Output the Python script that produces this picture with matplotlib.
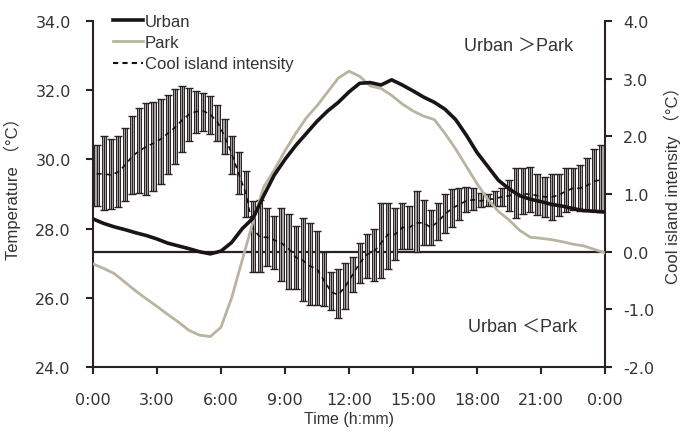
import matplotlib
matplotlib.use("Agg")
import matplotlib.pyplot as plt
import numpy as np

# ---- data ----
hours = [0, 0.5, 1, 1.5, 2, 2.5, 3, 3.5, 4, 4.5, 5, 5.5, 6, 6.5, 7, 7.5, 8, 8.5, 9, 9.5,
         10, 10.5, 11, 11.5, 12, 12.5, 13, 13.5, 14, 14.5, 15, 15.5, 16, 16.5, 17, 17.5,
         18, 18.5, 19, 19.5, 20, 20.5, 21, 21.5, 22, 22.5, 23, 23.5, 24]
urban = [28.28, 28.15, 28.05, 27.97, 27.88, 27.80, 27.70, 27.58, 27.50, 27.42, 27.33, 27.27,
         27.35, 27.60, 28.00, 28.30, 28.95, 29.55, 30.00, 30.40, 30.75, 31.10, 31.40, 31.65,
         31.95, 32.20, 32.22, 32.15, 32.30, 32.15, 31.98, 31.80, 31.65, 31.45, 31.15, 30.70,
         30.20, 29.80, 29.40, 29.15, 28.95, 28.85, 28.78, 28.70, 28.65, 28.58, 28.52, 28.50, 28.48]
park = [26.98, 26.85, 26.70, 26.45, 26.20, 25.97, 25.75, 25.52, 25.30, 25.06, 24.92, 24.88,
        25.15, 26.00, 27.10, 28.20, 29.20, 29.70, 30.25, 30.75, 31.20, 31.55, 31.95, 32.35,
        32.55, 32.40, 32.12, 32.05, 31.85, 31.60, 31.40, 31.25, 31.15, 30.75, 30.30, 29.80,
        29.30, 28.85, 28.50, 28.25, 27.95, 27.75, 27.72, 27.68, 27.62, 27.55, 27.50, 27.40, 27.30]

ci_hours = [0.17, 0.5, 0.83, 1.17, 1.5, 1.83, 2.17, 2.5, 2.83, 3.17, 3.5, 3.83, 4.17, 4.5, 4.83,
            5.17, 5.5, 5.83, 6.17, 6.5, 6.83, 7.17, 7.5, 7.83, 8.17, 8.5, 8.83, 9.17, 9.5, 9.83,
            10.17, 10.5, 10.83, 11.17, 11.5, 11.83, 12.17, 12.5, 12.83, 13.17, 13.5, 13.83,
            14.17, 14.5, 14.83, 15.17, 15.5, 15.83, 16.17, 16.5, 16.83, 17.17, 17.5, 17.83,
            18.17, 18.5, 18.83, 19.17, 19.5, 19.83, 20.17, 20.5, 20.83, 21.17, 21.5, 21.83,
            22.17, 22.5, 22.83, 23.17, 23.5, 23.83]
ci_mean = [1.35, 1.35, 1.33, 1.38, 1.50, 1.65, 1.75, 1.82, 1.88, 1.95, 2.05, 2.15, 2.28, 2.38, 2.43,
           2.44, 2.38, 2.25, 2.00, 1.70, 1.35, 1.00, 0.40, 0.25, 0.25, 0.20, 0.15, 0.05, -0.10, -0.15,
           -0.25, -0.30, -0.50, -0.70, -0.75, -0.60, -0.40, -0.20, -0.05, 0.00, 0.15, 0.30,
           0.30, 0.42, 0.42, 0.50, 0.50, 0.42, 0.52, 0.65, 0.75, 0.82, 0.88, 0.90,
           0.88, 0.90, 0.92, 0.95, 0.97, 1.00, 1.00, 1.00, 0.97, 0.95, 0.95, 0.98,
           1.05, 1.10, 1.10, 1.15, 1.22, 1.25]
ci_high = [1.85, 2.00, 1.95, 2.00, 2.15, 2.35, 2.50, 2.58, 2.60, 2.65, 2.72, 2.82, 2.87, 2.83, 2.78,
           2.76, 2.70, 2.55, 2.30, 2.00, 1.72, 1.40, 0.87, 0.90, 0.75, 0.62, 0.75, 0.65, 0.45, 0.58,
           0.50, 0.35, 0.00, -0.35, -0.30, -0.20, -0.10, 0.15, 0.30, 0.40, 0.85, 0.85,
           0.75, 0.85, 0.80, 1.05, 0.90, 0.72, 0.85, 1.00, 1.08, 1.10, 1.12, 1.10,
           1.02, 1.00, 1.05, 1.10, 1.25, 1.45, 1.45, 1.47, 1.35, 1.30, 1.35, 1.35,
           1.45, 1.45, 1.50, 1.62, 1.78, 1.85]
ci_low = [0.80, 0.72, 0.74, 0.78, 0.88, 1.00, 1.02, 0.98, 1.05, 1.18, 1.35, 1.52, 1.72, 1.92, 2.05,
          2.10, 2.04, 1.92, 1.70, 1.35, 1.00, 0.60, -0.35, -0.35, -0.24, -0.30, -0.50, -0.65, -0.65, -0.85,
          -0.93, -0.92, -0.95, -1.02, -1.15, -1.00, -0.70, -0.55, -0.45, -0.50, -0.45, -0.30,
          -0.15, 0.05, 0.05, 0.00, 0.12, 0.12, 0.20, 0.33, 0.42, 0.55, 0.68, 0.72,
          0.77, 0.80, 0.79, 0.79, 0.70, 0.58, 0.65, 0.68, 0.63, 0.60, 0.55, 0.62,
          0.69, 0.72, 0.70, 0.72, 0.70, 0.68]

xticks = [0, 3, 6, 9, 12, 15, 18, 21, 24]
xticklabels = ["0:00", "3:00", "6:00", "9:00", "12:00", "15:00", "18:00", "21:00", "0:00"]
yticks_left = [24, 26, 28, 30, 32, 34]
yticks_right = [-2, -1, 0, 1, 2, 3, 4]

# ---- style ----
plt.rcParams['font.family'] = ['DejaVu Sans']
dark = '#2a2222'
txt = '#333333'
park_col = '#b8b4a0'
lab = ['Liberation Sans', 'Noto Sans CJK JP', 'DejaVu Sans']

fig = plt.figure(figsize=(6.86, 4.39), dpi=100)
ax = fig.add_axes([93/686, 71/439, 512/686, 346/439])
ax2 = ax.twinx()

# cool island intensity on right axis
ci_hours_a = np.array(ci_hours)
lo = np.array(ci_low); hi = np.array(ci_high); mn = np.array(ci_mean)
ax2.bar(ci_hours_a, hi - lo, bottom=lo, width=0.2, color='#a9a9a9',
        edgecolor=dark, linewidth=0.7, zorder=2)
ax2.errorbar(ci_hours_a, mn, yerr=[mn - lo, hi - mn], fmt='none', ecolor=dark,
             elinewidth=0.8, capsize=3, capthick=1.0, zorder=3)
ax2.plot(ci_hours_a, mn, color='#111111', linestyle=(0, (3, 2.5)), linewidth=1.2, zorder=4)
ax2.axhline(0, color=dark, linewidth=1.6, zorder=1)

# temperatures on left axis (drawn above)
ax.set_zorder(ax2.get_zorder() + 1)
ax.patch.set_visible(False)
ax.plot(hours, urban, color='#1a1414', linewidth=2.6, label='Urban', zorder=5)
ax.plot(hours, park, color=park_col, linewidth=2.0, label='Park', zorder=4)
ax.plot([], [], color='#111111', linestyle=(0, (2.5, 2)), linewidth=1.5, label='Cool island intensity')

ax.set_xlim(0, 24)
ax.set_ylim(24, 34)
ax2.set_ylim(-2, 4)
ax.set_xticks(xticks)
ax.set_xticklabels(xticklabels)
ax.set_yticks(yticks_left)
ax.set_yticklabels([f"{v:.1f}" for v in yticks_left])
ax2.set_yticks(yticks_right)
ax2.set_yticklabels([f"{v:.1f}" for v in yticks_right])

for a in (ax, ax2):
    a.spines['top'].set_visible(False)
    for s in a.spines.values():
        s.set_color(dark)
        s.set_linewidth(1.5)
    a.tick_params(colors=dark, labelcolor=txt, labelsize=11.5, width=1.5, length=5, direction='out')
ax.spines['right'].set_visible(False)
ax2.spines['left'].set_visible(False)
ax2.spines['bottom'].set_visible(False)
ax.tick_params(axis='y', pad=11)
ax.tick_params(axis='x', pad=13)
ax2.tick_params(axis='y', pad=8)

ax.set_ylabel('Temperature （°C）', family=lab, fontsize=12, color=txt)
ax.yaxis.set_label_coords(-0.14, 0.53)
ax2.set_ylabel('Cool island intensity （°C）', family=lab, fontsize=12, color=txt, rotation=90)
ax2.yaxis.set_label_coords(1.115, 0.54)
ax.set_xlabel('Time (h:mm)', family=lab, fontsize=11.5, color=txt, labelpad=3)

ax.text(0.9375, 0.928, 'Urban ＞Park', transform=ax.transAxes, family=lab, fontsize=13,
        color=txt, ha='right', va='center')
ax.text(0.945, 0.116, 'Urban ＜Park', transform=ax.transAxes, family=lab, fontsize=13,
        color=txt, ha='right', va='center')

leg = ax.legend(loc='upper left', bbox_to_anchor=(0.02, 1.05), frameon=False,
                handlelength=1.8, handletextpad=0.1, labelspacing=0.38, borderaxespad=0.2,
                prop={'family': lab, 'size': 12})
for t in leg.get_texts():
    t.set_color(txt)

fig.savefig('out.png', dpi=100)
